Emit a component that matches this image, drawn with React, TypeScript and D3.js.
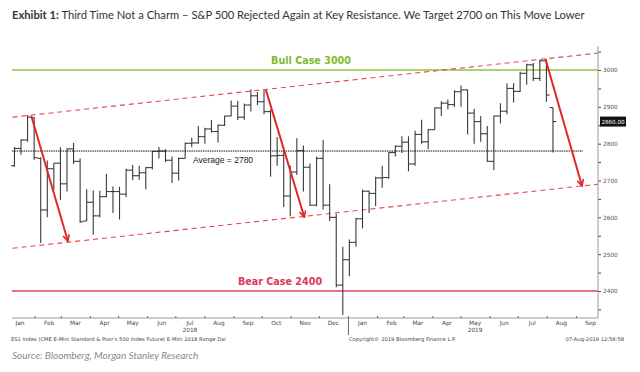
import { useEffect, useRef } from 'react';
import * as d3 from 'd3';

// Weekly ES1 bars (week starting Monday)
const firstWeek = '2018-01-08';
const lastWeek = '2019-08-05';

const opens = [
  2740, 2787, 2810, 2870, 2760, 2620, 2732, 2747, 2691, 2786, 2752, 2590, 2641, 2604, 2656, 2670, 2670,
  2663, 2728, 2713, 2721, 2735, 2779, 2780, 2755, 2720, 2760, 2801, 2802, 2819, 2840, 2833, 2850, 2875,
  2902, 2872, 2905, 2930, 2914, 2887, 2767, 2768, 2658, 2723, 2781, 2736, 2633, 2760, 2633, 2600, 2416, 2485,
  2532, 2596, 2671, 2665, 2707, 2708, 2776, 2793, 2804, 2745, 2825, 2805, 2838, 2897, 2910, 2906, 2941,
  2946, 2883, 2860, 2827, 2752, 2875, 2888, 2950, 2942, 2991, 3014, 2977, 3025, 2898,
];
const highs = [
  2790, 2812, 2878, 2872, 2763, 2754, 2747, 2790, 2787, 2802, 2760, 2676, 2673, 2672, 2718, 2684, 2683,
  2732, 2742, 2740, 2736, 2780, 2791, 2785, 2765, 2762, 2803, 2816, 2848, 2843, 2864, 2852, 2876, 2917,
  2916, 2909, 2947, 2940, 2945, 2893, 2818, 2780, 2740, 2815, 2795, 2746, 2765, 2810, 2690, 2610, 2520, 2540,
  2598, 2675, 2672, 2710, 2740, 2776, 2795, 2820, 2820, 2835, 2865, 2840, 2898, 2915, 2920, 2945, 2958,
  2947, 2895, 2875, 2848, 2876, 2910, 2964, 2964, 2995, 3017, 3019, 3027, 3029, 2898,
];
const lows = [
  2737, 2770, 2805, 2756, 2530, 2600, 2675, 2647, 2670, 2745, 2585, 2590, 2553, 2600, 2655, 2612, 2594,
  2655, 2701, 2702, 2676, 2730, 2760, 2750, 2693, 2700, 2760, 2790, 2800, 2800, 2830, 2803, 2848, 2875,
  2864, 2865, 2887, 2905, 2880, 2710, 2740, 2628, 2603, 2715, 2670, 2631, 2630, 2621, 2590, 2410, 2335, 2440,
  2520, 2570, 2612, 2630, 2680, 2705, 2765, 2775, 2725, 2740, 2800, 2785, 2838, 2875, 2893, 2900, 2900,
  2825, 2800, 2805, 2750, 2728, 2855, 2880, 2912, 2940, 2960, 2970, 2970, 2914, 2776,
];
const closes = [
  2787, 2810, 2872, 2762, 2620, 2732, 2747, 2691, 2786, 2752, 2588, 2641, 2604, 2656, 2670, 2670, 2663,
  2728, 2713, 2721, 2735, 2779, 2780, 2755, 2720, 2760, 2801, 2802, 2819, 2840, 2833, 2850, 2875, 2902,
  2872, 2905, 2930, 2914, 2887, 2767, 2768, 2658, 2723, 2781, 2736, 2633, 2760, 2633, 2600, 2416, 2485, 2532,
  2596, 2671, 2665, 2707, 2708, 2776, 2793, 2804, 2745, 2825, 2805, 2838, 2897, 2910, 2906, 2941, 2946,
  2883, 2860, 2827, 2752, 2875, 2888, 2950, 2942, 2991, 3014, 2977, 3025, 2932, 2860,
];

const yTicks = [2400, 2500, 2600, 2700, 2800, 2900, 3000];
const monthNames = ['Jan', 'Feb', 'Mar', 'Apr', 'May', 'Jun', 'Jul', 'Aug', 'Sep', 'Oct', 'Nov', 'Dec'];
const lastPrice = 2860;
const average = 2780;
const bullCase = 3000;
const bearCase = 2400;

// channel lines [date, value]
const upperChannel: [string, number][] = [['2018-01-08', 2872], ['2019-09-24', 3046]];
const lowerChannel: [string, number][] = [['2018-01-08', 2516], ['2019-09-24', 2690]];

// arrows: from peak to target
const arrows: [string, number, string, number][] = [
  ['2018-01-28', 2875, '2018-03-08', 2535],
  ['2018-10-05', 2946, '2018-11-15', 2600],
  ['2019-07-30', 3030, '2019-09-07', 2685],
];

const parse = d3.timeParse('%Y-%m-%d');

export default function App() {
  const svgRef = useRef<SVGSVGElement>(null);

  useEffect(() => {
    document.body.style.margin = '0';
    if (!svgRef.current) return;
    const svg = d3.select(svgRef.current);
    svg.selectAll('*').remove();

    const width = 640;
    const height = 372;
    const plotLeft = 12;
    const plotRight = 598;
    const axisY = 318;

    svg.attr('width', width).attr('height', height).attr('viewBox', `0 0 ${width} ${height}`);
    svg.append('rect').attr('width', width).attr('height', height).attr('fill', '#fff');

    const x = d3.scaleTime()
      .domain([parse('2018-01-01')!, parse('2019-09-24')!])
      .range([6, plotRight]);
    const y = d3.scaleLinear().domain([bearCase, bullCase]).range([291, 70]);

    // Title
    const title = svg.append('text')
      .attr('x', 12)
      .attr('y', 19)
      .style('font-family', 'Lato, sans-serif')
      .style('font-size', '11.2px')
      .attr('fill', '#333');
    title.append('tspan').style('font-weight', '700').text('Exhibit 1:');
    title.append('tspan').text(' Third Time Not a Charm – S&P 500 Rejected Again at Key Resistance. We Target 2700 on This Move Lower');

    const g = svg.append('g');

    // Bull / bear lines
    g.append('line')
      .attr('x1', plotLeft).attr('x2', plotRight)
      .attr('y1', y(bullCase)).attr('y2', y(bullCase))
      .attr('stroke', '#8dc63f').attr('stroke-width', 1.5);
    g.append('line')
      .attr('x1', plotLeft).attr('x2', plotRight)
      .attr('y1', y(bearCase)).attr('y2', y(bearCase))
      .attr('stroke', '#e0405e').attr('stroke-width', 1.5);

    // Channel
    const chLine = d3.line<[string, number]>()
      .x(d => x(parse(d[0])!))
      .y(d => y(d[1]));
    [upperChannel, lowerChannel].forEach(ch => {
      g.append('path')
        .attr('d', chLine(ch))
        .attr('fill', 'none')
        .attr('stroke', '#e8464b')
        .attr('stroke-width', 1.1)
        .attr('stroke-dasharray', '5,4');
    });

    // Price bars (OHLC)
    const weeks = d3.timeMonday.range(parse(firstWeek)!, d3.timeDay.offset(parse(lastWeek)!, 1));
    const bars = g.append('g').attr('stroke', '#3a3a3a').attr('stroke-width', 1.1);
    weeks.forEach((wk, i) => {
      const cx = x(d3.timeDay.offset(wk, 2));
      bars.append('line')
        .attr('x1', cx).attr('x2', cx)
        .attr('y1', y(highs[i])).attr('y2', y(lows[i]));
      bars.append('line')
        .attr('x1', cx - 3.3).attr('x2', cx)
        .attr('y1', y(opens[i])).attr('y2', y(opens[i]));
      bars.append('line')
        .attr('x1', cx).attr('x2', cx + 3.3)
        .attr('y1', y(closes[i])).attr('y2', y(closes[i]));
    });

    // Average line
    g.append('line')
      .attr('x1', plotLeft).attr('x2', 583)
      .attr('y1', y(average)).attr('y2', y(average))
      .attr('stroke', '#111').attr('stroke-width', 1)
      .attr('stroke-dasharray', '1.5,0.8');
    g.append('text')
      .attr('x', 193).attr('y', 163)
      .style('font-family', '"Liberation Sans", Arial, sans-serif')
      .style('font-size', '8.5px')
      .attr('fill', '#222')
      .text(`Average = ${average}`);

    // Case labels
    g.append('text')
      .attr('x', 311).attr('y', 63.5)
      .attr('text-anchor', 'middle')
      .style('font-family', '"DejaVu Sans", Verdana, sans-serif')
      .style('font-weight', '700')
      .style('font-size', '9.6px')
      .attr('fill', '#7dbb2f')
      .text(`Bull Case ${bullCase}`);
    g.append('text')
      .attr('x', 280).attr('y', 285)
      .attr('text-anchor', 'middle')
      .style('font-family', '"DejaVu Sans", Verdana, sans-serif')
      .style('font-weight', '700')
      .style('font-size', '9.6px')
      .attr('fill', '#e0365a')
      .text(`Bear Case ${bearCase}`);

    // Arrows
    const defs = svg.append('defs');
    defs.append('marker')
      .attr('id', 'arrowhead')
      .attr('viewBox', '0 0 10 10')
      .attr('refX', 9).attr('refY', 5)
      .attr('markerWidth', 4).attr('markerHeight', 4)
      .attr('orient', 'auto')
      .append('path')
      .attr('d', 'M1,1 L9,5 L1,9')
      .attr('fill', 'none')
      .attr('stroke', '#e02828')
      .attr('stroke-width', 2);
    arrows.forEach(a => {
      g.append('line')
        .attr('x1', x(parse(a[0])!)).attr('y1', y(a[1]))
        .attr('x2', x(parse(a[2])!)).attr('y2', y(a[3]))
        .attr('stroke', '#e02828')
        .attr('stroke-width', 2)
        .attr('marker-end', 'url(#arrowhead)');
    });

    // Right axis
    const yAxis = d3.axisRight(y)
      .tickValues(d3.range(2350, 3051, 50))
      .tickSize(3)
      .tickFormat(d => (yTicks.includes(+d) ? `${d}` : ''));
    const ya = svg.append('g')
      .attr('transform', `translate(${plotRight},0)`)
      .call(yAxis);
    ya.select('.domain').remove();
    ya.selectAll('line').attr('stroke', '#444');
    ya.selectAll('text')
      .attr('x', 5)
      .attr('fill', '#555')
      .style('font-family', 'Tahoma, "DejaVu Sans", sans-serif')
      .style('font-size', '5.8px');
    svg.append('line')
      .attr('x1', plotRight).attr('x2', plotRight)
      .attr('y1', 46).attr('y2', axisY)
      .attr('stroke', '#999').attr('stroke-width', 1);

    // Last price tag
    svg.append('rect')
      .attr('x', 600).attr('y', y(lastPrice) - 5)
      .attr('width', 26).attr('height', 10)
      .attr('fill', '#111');
    svg.append('text')
      .attr('x', 613).attr('y', y(lastPrice) + 2)
      .attr('text-anchor', 'middle')
      .attr('fill', '#fff')
      .style('font-family', '"DejaVu Sans", sans-serif')
      .style('font-size', '5.6px')
      .text(lastPrice.toFixed(2));

    // Bottom axis
    svg.append('line')
      .attr('x1', plotLeft).attr('x2', plotRight)
      .attr('y1', axisY).attr('y2', axisY)
      .attr('stroke', '#999').attr('stroke-width', 1);
    const monthStarts = d3.timeMonth.range(parse('2018-02-01')!, parse('2019-10-01')!);
    monthStarts.forEach(m => {
      svg.append('line')
        .attr('x1', x(m)).attr('x2', x(m))
        .attr('y1', axisY - 2).attr('y2', axisY)
        .attr('stroke', '#666');
    });
    const labelMonths = d3.timeMonth.range(parse('2018-01-01')!, parse('2019-10-01')!);
    labelMonths.forEach(m => {
      svg.append('text')
        .attr('x', x(d3.timeDay.offset(m, 15)))
        .attr('y', 325)
        .attr('text-anchor', 'middle')
        .attr('fill', '#444')
        .style('font-family', 'Tahoma, "DejaVu Sans", sans-serif')
        .style('font-size', '5.8px')
        .text(monthNames[m.getMonth()]);
    });
    [['2018', '2018-07-16'], ['2019', '2019-05-16']].forEach(([label, d]) => {
      svg.append('text')
        .attr('x', x(parse(d)!))
        .attr('y', 332)
        .attr('text-anchor', 'middle')
        .attr('fill', '#444')
        .style('font-family', 'Tahoma, "DejaVu Sans", sans-serif')
        .style('font-size', '5.8px')
        .text(label);
    });
    svg.append('line')
      .attr('x1', x(parse('2019-01-01')!)).attr('x2', x(parse('2019-01-01')!))
      .attr('y1', axisY).attr('y2', 335)
      .attr('stroke', '#666');

    // Footer
    const foot = svg.append('g')
      .attr('fill', '#444')
      .style('font-family', 'Tahoma, "DejaVu Sans", sans-serif')
      .style('font-size', '5.2px');
    foot.append('text').attr('x', 11).attr('y', 341)
      .text('ES1 Index (CME E-Mini Standard & Poor\'s 500 Index Future) E-Mini 2018 Range  Dai');
    foot.append('text').attr('x', 349).attr('y', 341)
      .text('Copyright© 2019 Bloomberg Finance L.P.');
    foot.append('text').attr('x', 624).attr('y', 341).attr('text-anchor', 'end')
      .text('07-Aug-2019 12:58:58');

    svg.append('text')
      .attr('x', 12).attr('y', 359)
      .attr('fill', '#8a8a8a')
      .style('font-family', 'Lato, sans-serif')
      .style('font-style', 'italic')
      .style('font-size', '10px')
      .text('Source: Bloomberg, Morgan Stanley Research');
  }, []);

  return <svg ref={svgRef} style={{ display: 'block' }} />;
}
